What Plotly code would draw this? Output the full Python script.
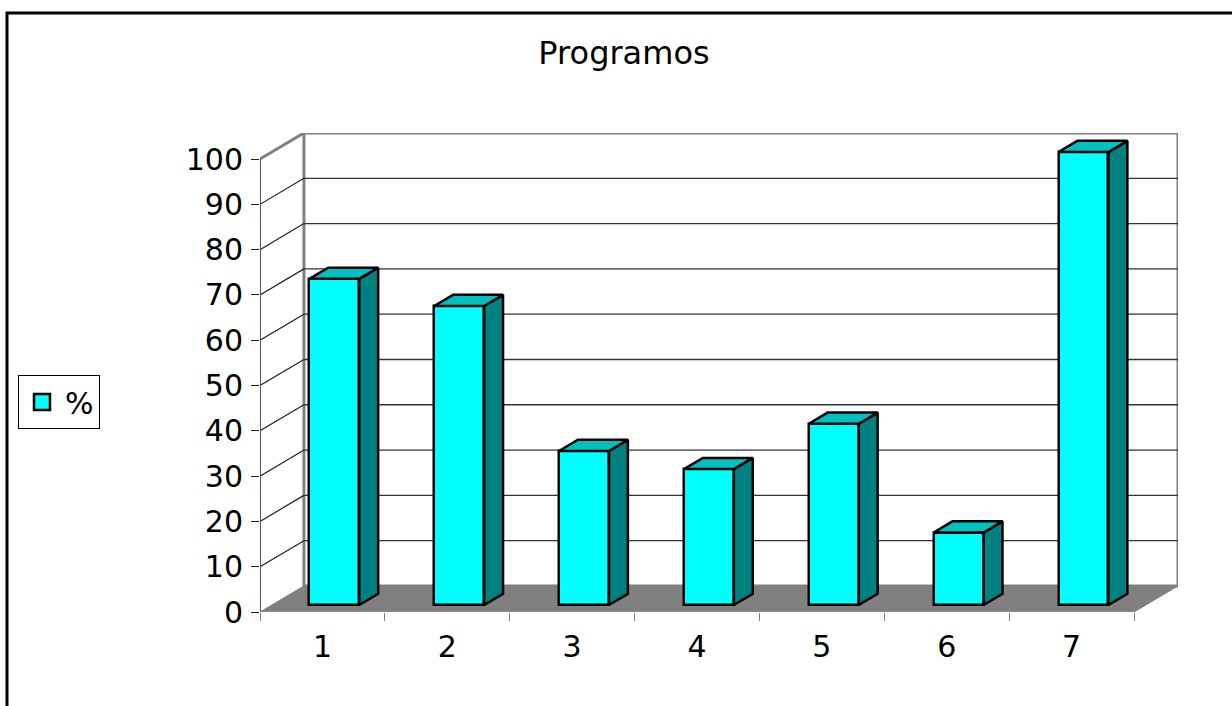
import plotly.graph_objects as go

# ---- data ----
categories = [1, 2, 3, 4, 5, 6, 7]
tick_labels = ["1", "2", "3", "4", "5", "6", "7"]
values = [72, 66, 34, 30, 40, 16, 100]
series_name = "%"
title_text = "Programos"
y_ticks = [0, 10, 20, 30, 40, 50, 60, 70, 80, 90, 100]

# ---- 3D projection settings (style) ----
DX, DY = 0.352, 5.75          # depth offset of back wall in axis units
F1, F2 = 0.27, 0.70           # front / back depth fraction of bars
HW = 0.2                      # half bar width
FRONT = "#00FFFF"
TOP = "#00C0C0"
SIDE = "#008080"
FONT = "DejaVu Sans"

x0, x1 = categories[0] - 0.5, categories[-1] + 0.5
ymax = y_ticks[-1]

fig = go.Figure()

dx1, dy1 = F1 * DX, F1 * DY
dx2, dy2 = F2 * DX, F2 * DY

# front faces as real bars
fig.add_trace(go.Bar(
    x=[c + dx1 for c in categories], y=values, base=dy1, width=2 * HW,
    marker=dict(color=FRONT, line=dict(color="black", width=2.5)),
    showlegend=False, hoverinfo="skip"))

# side and top faces
for c, v in zip(categories, values):
    xl, xr = c + dx1 - HW, c + dx1 + HW
    fig.add_trace(go.Scatter(
        x=[xr, xr + (dx2 - dx1), xr + (dx2 - dx1), xr, xr],
        y=[dy1, dy2, v + dy2, v + dy1, dy1],
        mode="lines", fill="toself", fillcolor=SIDE,
        line=dict(color="black", width=2.5), showlegend=False, hoverinfo="skip"))
    fig.add_trace(go.Scatter(
        x=[xl, xr, xr + (dx2 - dx1), xl + (dx2 - dx1), xl],
        y=[v + dy1, v + dy1, v + dy2, v + dy2, v + dy1],
        mode="lines", fill="toself", fillcolor=TOP,
        line=dict(color="black", width=2.5), showlegend=False, hoverinfo="skip"))

# legend entry
fig.add_trace(go.Scatter(
    x=[None], y=[None], mode="markers", name=series_name,
    marker=dict(symbol="square", size=16, color=FRONT, line=dict(color="black", width=2.5))))

shapes = []
# back wall
shapes.append(dict(type="rect", xref="x", yref="y", x0=x0 + DX, x1=x1 + DX, y0=DY, y1=ymax + DY,
                   fillcolor="white", line=dict(color="#808080", width=3), layer="below"))
# gridlines on back wall and left wall
for t in y_ticks[1:-1]:
    shapes.append(dict(type="line", xref="x", yref="y", x0=x0 + DX, x1=x1 + DX, y0=t + DY, y1=t + DY,
                       line=dict(color="#333333", width=1.3), layer="below"))
    shapes.append(dict(type="line", xref="x", yref="y", x0=x0, x1=x0 + DX, y0=t, y1=t + DY,
                       line=dict(color="#222222", width=1.2), layer="below"))
# top diagonal of left wall
shapes.append(dict(type="line", xref="x", yref="y", x0=x0, x1=x0 + DX, y0=ymax, y1=ymax + DY,
                   line=dict(color="#808080", width=3), layer="below"))
# floor
shapes.append(dict(type="path", xref="x", yref="y",
                   path=f"M{x0},0 L{x1},0 L{x1 + DX},{DY} L{x0 + DX},{DY} Z",
                   fillcolor="#808080", line=dict(color="#808080", width=1), layer="below"))
# front vertical axis
shapes.append(dict(type="line", xref="x", yref="y", x0=x0, x1=x0, y0=0, y1=ymax,
                   line=dict(color="#555555", width=2), layer="below"))
# front floor edge
shapes.append(dict(type="line", xref="x", yref="y", x0=x0, x1=x1, y0=0, y1=0,
                   line=dict(color="#999999", width=1), layer="below"))
# outer chart border
shapes.append(dict(type="rect", xref="paper", yref="paper", x0=-0.2756, x1=1.07, y0=-0.23, y1=1.2505,
                   fillcolor="rgba(0,0,0,0)", line=dict(color="black", width=3)))

fig.update_layout(
    width=1232, height=706, autosize=False,
    margin=dict(l=260, r=54, t=133, b=94, pad=0),
    paper_bgcolor="white", plot_bgcolor="rgba(0,0,0,0)",
    shapes=shapes,
    title=dict(text=title_text, x=624 / 1232, xref="container", xanchor="center",
               y=1 - 53 / 706, yref="container", yanchor="middle",
               font=dict(family=FONT, size=32, color="black")),
    xaxis=dict(range=[x0, x1 + DX], tickvals=categories, ticktext=tick_labels,
               ticks="", showgrid=False, zeroline=False, showline=False,
               ticklabelstandoff=14,
               minor=dict(tickvals=[c - 0.5 for c in categories] + [x1], ticks="outside",
                          ticklen=8, tickcolor="#808080", tickwidth=1, showgrid=False),
               tickfont=dict(family=FONT, size=30, color="black"), fixedrange=True),
    yaxis=dict(range=[0, ymax + DY], tickvals=y_ticks, ticks="outside", ticklen=8,
               tickcolor="#222222", tickwidth=1, showgrid=False, zeroline=False, showline=False,
               ticklabelstandoff=2,
               tickfont=dict(family=FONT, size=30, color="black"), fixedrange=True),
    legend=dict(xref="container", yref="container", x=18 / 1232, y=1 - 375 / 706,
                xanchor="left", yanchor="top", bordercolor="black", borderwidth=1,
                itemwidth=36,
                bgcolor="white", font=dict(family=FONT, size=30, color="black")),
    showlegend=True,
    bargap=0,
)

fig.write_html("out.html", config={"displayModeBar": False})
